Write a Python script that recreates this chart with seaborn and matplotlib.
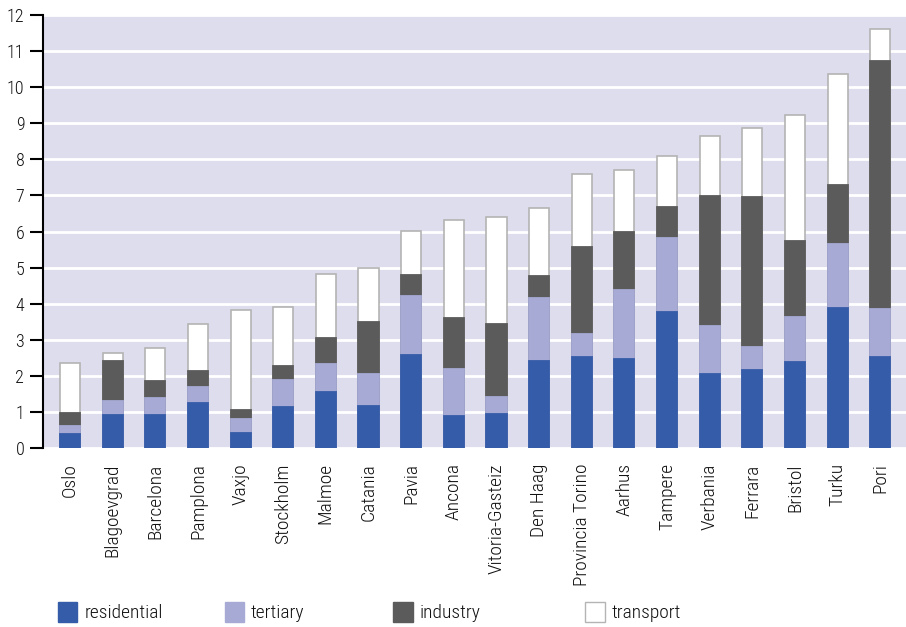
import os
import matplotlib
matplotlib.use("Agg")
import matplotlib.pyplot as plt
from matplotlib import font_manager
from matplotlib.patches import Patch
import numpy as np
import pandas as pd
import seaborn as sns

cities = ["Oslo", "Blagoevgrad", "Barcelona", "Pamplona", "Vaxjo", "Stockholm",
          "Malmoe", "Catania", "Pavia", "Ancona", "Vitoria-Gasteiz", "Den Haag",
          "Provincia Torino", "Aarhus", "Tampere", "Verbania", "Ferrara",
          "Bristol", "Turku", "Pori"]
residential = [0.40, 0.92, 0.92, 1.25, 0.42, 1.14, 1.56, 1.17, 2.59, 0.89,
               0.95, 2.42, 2.51, 2.48, 3.76, 2.06, 2.17, 2.37, 3.87, 2.51]
tertiary = [0.22, 0.39, 0.47, 0.45, 0.39, 0.75, 0.78, 0.89, 1.62, 1.31,
            0.47, 1.73, 0.65, 1.89, 2.06, 1.31, 0.64, 1.25, 1.78, 1.33]
industry = [0.34, 1.10, 0.48, 0.44, 0.23, 0.38, 0.71, 1.43, 0.58, 1.40,
            2.01, 0.63, 2.42, 1.63, 0.87, 3.62, 4.16, 2.13, 1.65, 6.90]
transport = [1.39, 0.21, 0.91, 1.31, 2.78, 1.64, 1.76, 1.49, 1.22, 2.73,
             2.97, 1.87, 2.02, 1.70, 1.39, 1.66, 1.91, 3.48, 3.07, 0.87]
series_names = ["residential", "tertiary", "industry", "transport"]
yticks = list(range(0, 13))

colors = {"residential": "#355CA8", "tertiary": "#A7AAD4",
          "industry": "#5B5B5B", "transport": "#FFFFFF"}

sns.set_theme(style="white")
plt.rcParams["font.family"] = ["DejaVu Sans"]

# find a condensed font file
prefs = ["RobotoCondensed-Light", "RobotoCondensed-Regular", "LiberationSansNarrow-Regular",
         "OpenSans_Condensed-Light", "OpenSansCondensed-Light", "OpenSans_Condensed-Regular",
         "DejaVuSansCondensed."]
files = [f.fname for f in font_manager.fontManager.ttflist]
chosen = None
for p in prefs:
    for fn in files:
        if os.path.basename(fn).startswith(p):
            chosen = fn
            break
    if chosen:
        break
if chosen is None:
    for fn in files:
        b = os.path.basename(fn)
        if ("Condensed" in b or "Narrow" in b) and "Bold" not in b and "Italic" not in b and "Oblique" not in b:
            chosen = fn
            break

def fp(size):
    if chosen:
        return font_manager.FontProperties(fname=chosen, size=size)
    return font_manager.FontProperties(family="DejaVu Sans", size=size, stretch="condensed")

df = pd.DataFrame({"city": cities, "residential": residential, "tertiary": tertiary,
                   "industry": industry, "transport": transport})
df["c_res"] = df["residential"]
df["c_ter"] = df["c_res"] + df["tertiary"]
df["c_ind"] = df["c_ter"] + df["industry"]
df["c_tra"] = df["c_ind"] + df["transport"]

fig = plt.figure(figsize=(9.06, 6.27), dpi=100)
ax = fig.add_axes([0.0475, 0.2855, 0.9525, 0.6905])
ax.set_facecolor("#DDDDEE")

w = 0.47
sns.barplot(data=df, x="city", y="c_tra", color="#FFFFFF", width=w, ax=ax,
            edgecolor="#B4B4B4", linewidth=1.2, saturation=1)
sns.barplot(data=df, x="city", y="c_ind", color=colors["industry"], width=w, ax=ax,
            edgecolor=colors["industry"], linewidth=1.3, saturation=1)
sns.barplot(data=df, x="city", y="c_ter", color=colors["tertiary"], width=w, ax=ax,
            edgecolor=colors["tertiary"], linewidth=1.3, saturation=1)
sns.barplot(data=df, x="city", y="c_res", color=colors["residential"], width=w, ax=ax,
            edgecolor=colors["residential"], linewidth=1.3, saturation=1)

ax.set_ylim(0, 12)
ax.set_xlim(-0.63, 19.6)
ax.set_yticks(yticks)
ax.set_yticklabels([str(t) for t in yticks])
ax.yaxis.grid(True, color="white", linewidth=2)
ax.set_axisbelow(True)
ax.set_xlabel("")
ax.set_ylabel("")
for s in ["top", "right", "bottom"]:
    ax.spines[s].set_visible(False)
ax.spines["left"].set_color("black")
ax.spines["left"].set_linewidth(1.5)
ax.tick_params(axis="y", which="major", left=True, length=9.5, width=1.5,
               color="black", pad=4, labelcolor="#111111")
ax.tick_params(axis="x", bottom=False, pad=5)
ax.set_xticks(range(len(cities)))
ax.set_xticklabels(cities, rotation=90, va="top", ha="center", color="#111111")
for lab in ax.get_yticklabels():
    lab.set_fontproperties(fp(13))
for lab in ax.get_xticklabels():
    lab.set_fontproperties(fp(14))

legend_x = [0.064, 0.248, 0.434, 0.646]
for name, lx in zip(series_names, legend_x):
    h = Patch(facecolor=colors[name],
              edgecolor="#B4B4B4" if name == "transport" else colors[name],
              linewidth=1)
    fig.legend(handles=[h], labels=[name], loc="center left",
               bbox_to_anchor=(lx, 0.024), frameon=False, prop=fp(14),
               handlelength=1.0, handleheight=1.2, handletextpad=0.35,
               borderpad=0, borderaxespad=0, labelcolor="#111111")

fig.savefig("out.png", dpi=100)
